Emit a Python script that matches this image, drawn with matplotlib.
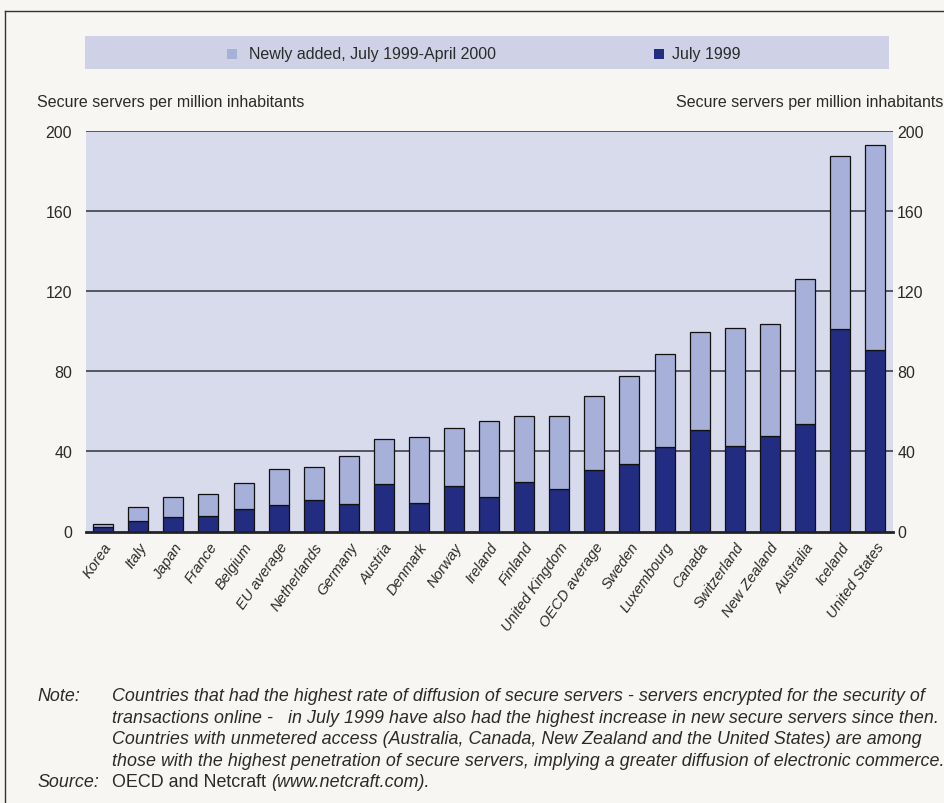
import matplotlib
matplotlib.use("Agg")
import matplotlib.pyplot as plt
import numpy as np
from matplotlib.patches import Rectangle
from matplotlib.lines import Line2D

plt.rcParams['font.family'] = ['Liberation Sans', 'DejaVu Sans']

countries = ["Korea", "Italy", "Japan", "France", "Belgium", "EU average",
             "Netherlands", "Germany", "Austria", "Denmark", "Norway", "Ireland",
             "Finland", "United Kingdom", "OECD average", "Sweden", "Luxembourg",
             "Canada", "Switzerland", "New Zealand", "Australia", "Iceland",
             "United States"]
july_1999 = [2.0, 5.0, 7.4, 7.7, 11.4, 13.0, 15.6, 13.7, 23.7, 14.3, 22.8, 17.1,
             24.7, 21.0, 30.6, 33.9, 42.0, 50.6, 42.7, 47.7, 53.8, 100.8, 90.8]
april_2000_total = [3.7, 12.0, 17.4, 18.8, 24.4, 31.4, 32.0, 37.6, 46.4, 47.2, 51.5,
                    55.1, 57.5, 57.8, 67.4, 77.8, 88.4, 99.8, 101.5, 103.7, 126.0,
                    187.5, 192.8]
newly_added = [t - j for t, j in zip(april_2000_total, july_1999)]
y_ticks = [0, 40, 80, 120, 160, 200]

legend_labels = ["Newly added, July 1999-April 2000", "July 1999"]
axis_title = "Secure servers per million inhabitants"
note_lines = [
    "Countries that had the highest rate of diffusion of secure servers - servers encrypted for the security of",
    "transactions online -   in July 1999 have also had the highest increase in new secure servers since then.",
    "Countries with unmetered access (Australia, Canada, New Zealand and the United States) are among",
    "those with the highest penetration of secure servers, implying a greater diffusion of electronic commerce.",
]

W, H = 945, 804
FIG_BG = "#f7f6f2"
PLOT_BG = "#d8dbec"
LIGHT = "#a6b0d8"
DARK = "#222c80"
TXT = "#2a2a2a"

fig = plt.figure(figsize=(W / 100, H / 100), dpi=100, facecolor=FIG_BG)

def fx(px):
    return px / W

def fy(py):
    return 1 - py / H

# frame lines
fig.add_artist(Line2D([fx(5), fx(5)], [fy(12), fy(H + 5)], color="#333333", lw=1.0))
fig.add_artist(Line2D([fx(5), fx(W + 5)], [fy(12), fy(12)], color="#333333", lw=1.0))

# legend band
fig.add_artist(Rectangle((fx(85), fy(70)), fx(889) - fx(85), fy(37) - fy(70),
                         transform=fig.transFigure, facecolor="#cfd2e7", edgecolor="none"))
fig.add_artist(Rectangle((fx(227), fy(60)), fx(10), fy(50) - fy(60),
                         transform=fig.transFigure, facecolor=LIGHT, edgecolor="none"))
fig.text(fx(249), fy(54), legend_labels[0], fontsize=11.5, color=TXT, ha="left", va="center")
fig.add_artist(Rectangle((fx(654), fy(60)), fx(10), fy(50) - fy(60),
                         transform=fig.transFigure, facecolor=DARK, edgecolor="none"))
fig.text(fx(672), fy(54), legend_labels[1], fontsize=11.5, color=TXT, ha="left", va="center")

# axis titles
fig.text(fx(37), fy(102), axis_title, fontsize=11.5, color=TXT, ha="left", va="center")
fig.text(fx(943), fy(102), axis_title, fontsize=11.5, color=TXT, ha="right", va="center")

# axes
left_px, right_px, top_px, bot_px = 86, 893, 131.7, 532.5
ax = fig.add_axes([fx(left_px), fy(bot_px), fx(right_px) - fx(left_px), fy(top_px) - fy(bot_px)])
ax.set_facecolor(PLOT_BG)
x = np.arange(len(countries))
ax.set_xlim(-0.49, len(countries) - 1 + 0.51)
ax.set_ylim(0, 200)
for t in y_ticks[1:]:
    ax.axhline(t, color="#4a4a55", lw=1.3, zorder=1)
ax.bar(x, july_1999, width=0.57, color=DARK, edgecolor="#111111", lw=0.9, zorder=3)
ax.bar(x, newly_added, bottom=july_1999, width=0.57, color=LIGHT, edgecolor="#111111",
       lw=0.9, zorder=3)
ax.axhline(0, color="#222222", lw=2.0, zorder=4, clip_on=False)
for s in ax.spines.values():
    s.set_visible(False)
ax.set_yticks(y_ticks)
ax.set_yticklabels([str(v) for v in y_ticks], fontsize=11.5, color=TXT)
ax.tick_params(axis="y", length=0, pad=10)
ax.set_xticks(x)
ax.set_xticklabels(countries, rotation=55, ha="right", va="top", rotation_mode="anchor",
                   fontsize=10.5, style="italic", color=TXT)
ax.tick_params(axis="x", length=0, pad=6)

ax2 = ax.twinx()
ax2.set_ylim(0, 200)
ax2.set_yticks(y_ticks)
ax2.set_yticklabels([str(v) for v in y_ticks], fontsize=11.5, color=TXT)
ax2.tick_params(axis="y", length=0, pad=3)
for s in ax2.spines.values():
    s.set_visible(False)

# notes
fig.canvas.draw()
renderer = fig.canvas.get_renderer()
probe = fig.text(0, 0, note_lines[3], fontsize=11, style="italic")
wpx = probe.get_window_extent(renderer).width
probe.remove()
note_fs = 11 * (831 / wpx)

y0, dy = 697, 21.5
fig.text(fx(37), fy(y0), "Note:", fontsize=note_fs, style="italic", color=TXT, ha="left", va="center")
for i, line in enumerate(note_lines):
    fig.text(fx(112), fy(y0 + i * dy), line, fontsize=note_fs, style="italic", color=TXT,
             ha="left", va="center")
ys = y0 + 4 * dy
fig.text(fx(37), fy(ys), "Source:", fontsize=note_fs, style="italic", color=TXT, ha="left", va="center")
t1 = fig.text(fx(112), fy(ys), "OECD and Netcraft ", fontsize=note_fs, color=TXT, ha="left", va="center")
w1 = t1.get_window_extent(renderer).width
fig.text(fx(112 + w1), fy(ys), "(www.netcraft.com).", fontsize=note_fs, style="italic", color=TXT,
         ha="left", va="center")

fig.savefig("out.png", dpi=100, facecolor=FIG_BG)
